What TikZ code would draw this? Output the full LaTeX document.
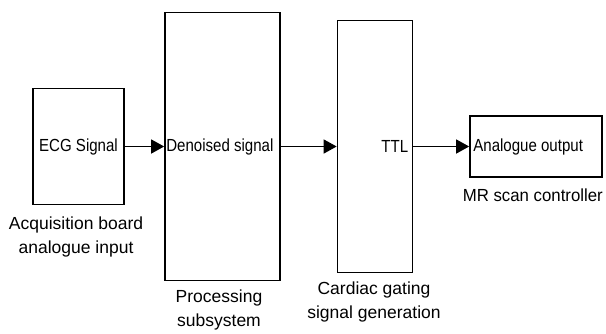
\documentclass[tikz,border=0pt]{standalone}
\usepackage{fontspec}
\setmainfont{Liberation Sans}
\newfontfamily\inboxfont[FakeStretch=0.86]{Liberation Sans}
\newfontfamily\mrfont[FakeStretch=0.96]{Liberation Sans}
\usetikzlibrary{arrows.meta}
\begin{document}
\begin{tikzpicture}[x=1pt,y=-1pt,
  box/.style={draw,line width=1.7pt,inner sep=0pt},
  intext/.style={font=\inboxfont\fontsize{17.5}{24}\selectfont,inner sep=0pt},
  lbl/.style={font=\fontsize{17.5}{24}\selectfont,inner sep=0pt,align=center},
  arr/.style={line width=1.5pt,-{Triangle[length=13pt,width=14pt]}}]
\useasboundingbox (0,0) rectangle (606,333);
\node[box,minimum width=91pt,minimum height=116pt] (b1) at (78.5,146.5) {};
\node[box,minimum width=115pt,minimum height=268pt] (b2) at (222.5,146.5) {};
\node[box,minimum width=75pt,minimum height=252pt] (b3) at (375,146.5) {};
\node[box,minimum width=132pt,minimum height=61pt] (b4) at (536,146.5) {};
\node[intext] (t1) at (b1) {ECG Signal};
\node[intext,anchor=west] (t2) at ([xshift=2pt]b2.west) {Denoised signal};
\node[intext,anchor=east] (t3) at ([xshift=-5pt]b3.east) {TTL};
\node[intext,anchor=west] (t4) at ([xshift=4pt]b4.west) {Analogue output};
\draw[arr] (b1.east) -- (b2.west);
\draw[arr] (b2.east) -- (b3.west);
\draw[arr] (b3.east) -- (b4.west);
\node[lbl,anchor=north] (l1) at (76,217) {Acquisition board\\analogue input};
\node[lbl,anchor=north] (l2) at (219,290) {Processing\\subsystem};
\node[lbl,anchor=north] (l3) at (374,282) {Cardiac gating\\signal generation};
\node[lbl,font=\mrfont\fontsize{17.5}{24}\selectfont,anchor=east] (l4) at (603,195) {MR scan controller};
\end{tikzpicture}
\end{document}
